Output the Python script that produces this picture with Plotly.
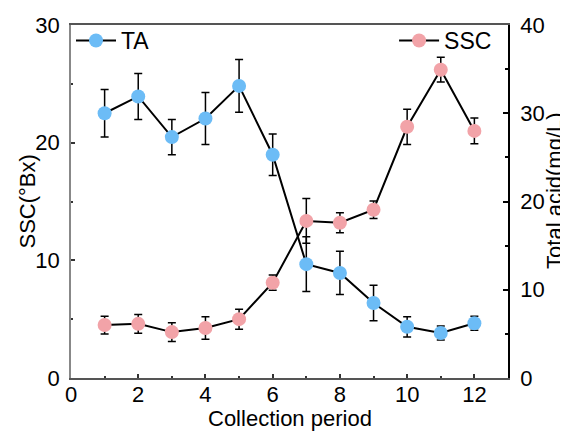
import plotly.graph_objects as go

period = [1, 2, 3, 4, 5, 6, 7, 8, 9, 10, 11, 12]
ssc = [4.5, 4.6, 3.9, 4.25, 5.0, 8.1, 13.35, 13.2, 14.3, 21.35, 26.2, 21.0]
ssc_err = [0.75, 0.8, 0.8, 0.95, 0.85, 0.65, 1.9, 0.85, 0.75, 1.5, 1.05, 1.1]
ta = [30.0, 31.9, 27.3, 29.4, 33.1, 25.3, 12.9, 11.9, 8.5, 5.8, 5.1, 6.2]
ta_err = [2.7, 2.6, 2.0, 2.95, 3.0, 2.35, 3.1, 2.45, 2.0, 1.15, 0.8, 0.8]
x_ticks = [0, 2, 4, 6, 8, 10, 12]
ssc_ticks = [0, 10, 20, 30]
ta_ticks = [0, 10, 20, 30, 40]

blue = "#6cbcf6"
pink = "#f2a3a8"
font = "Liberation Sans, Arial, sans-serif"
FS = 22

fig = go.Figure()
fig.add_trace(go.Scatter(
    x=period, y=ta, name="TA", mode="lines+markers", yaxis="y2",
    line=dict(color="black", width=2),
    marker=dict(color=blue, size=14),
    error_y=dict(type="data", array=ta_err, color="black", thickness=1.5, width=4),
    legend="legend",
))
fig.add_trace(go.Scatter(
    x=period, y=ssc, name="SSC", mode="lines+markers", yaxis="y",
    line=dict(color="black", width=2),
    marker=dict(color=pink, size=14),
    error_y=dict(type="data", array=ssc_err, color="black", thickness=1.5, width=4),
    legend="legend2",
))

# page body has an 8px default margin, so the figure is sized/offset to compensate
fig.update_layout(
    width=560, height=423,
    margin=dict(l=63, r=60, t=17, b=53, autoexpand=False),
    paper_bgcolor="white", plot_bgcolor="white",
    font=dict(family=font, size=FS, color="black"),
    xaxis=dict(
        range=[0, 13], tickmode="array", tickvals=x_ticks, automargin=False,
        showgrid=False, zeroline=False, showline=True, linecolor="#555", linewidth=1.5,
        mirror=True, ticks="inside", ticklen=4, tickwidth=1.5, tickcolor="#333",
        minor=dict(tickvals=[1, 3, 5, 7, 9, 11], ticks="inside", ticklen=2, tickcolor="#333"),
        tickfont=dict(size=FS), ticklabelstandoff=-4,
    ),
    yaxis=dict(
        range=[0, 30], tickvals=ssc_ticks, automargin=False,
        showgrid=False, zeroline=False, showline=True, linecolor="#888", linewidth=1.5,
        ticks="inside", ticklen=4, tickwidth=1.5, tickcolor="#333",
        minor=dict(tickvals=[5, 15, 25], ticks="inside", ticklen=2, tickcolor="#333"),
        tickfont=dict(size=FS), ticklabelstandoff=5,
    ),
    yaxis2=dict(
        range=[0, 40], tickvals=ta_ticks, overlaying="y", side="right", automargin=False,
        showgrid=False, zeroline=False, showline=True, linecolor="black", linewidth=1.5,
        ticks="inside", ticklen=5, tickwidth=1.5, tickcolor="black",
        minor=dict(tickvals=[5, 15, 25, 35], ticks="inside", ticklen=3, tickcolor="black"),
        tickfont=dict(size=FS), ticklabelstandoff=6,
    ),
    legend=dict(x=0.0, y=1.017, xanchor="left", yanchor="top", bgcolor="rgba(0,0,0,0)",
                itemwidth=40, font=dict(size=23), tracegroupgap=0),
    legend2=dict(x=0.975, y=1.017, xanchor="right", yanchor="top", bgcolor="rgba(0,0,0,0)",
                 itemwidth=40, font=dict(size=23)),
    showlegend=True,
    annotations=[
        dict(text="Collection period", xref="paper", yref="paper", x=0.5, y=0,
             xanchor="center", yanchor="middle", yshift=-40, showarrow=False,
             font=dict(size=22)),
        dict(text="SSC(°Bx)", xref="paper", yref="paper", x=0, y=0.5, textangle=-90,
             xanchor="center", yanchor="middle", xshift=-44, showarrow=False,
             font=dict(size=FS)),
        dict(text="Total acid(mg/L)", xref="paper", yref="paper", x=1, y=0.53, textangle=-90,
             xanchor="center", yanchor="middle", xshift=47, showarrow=False,
             font=dict(size=FS)),
    ],
)

fig.write_html("out.html")
